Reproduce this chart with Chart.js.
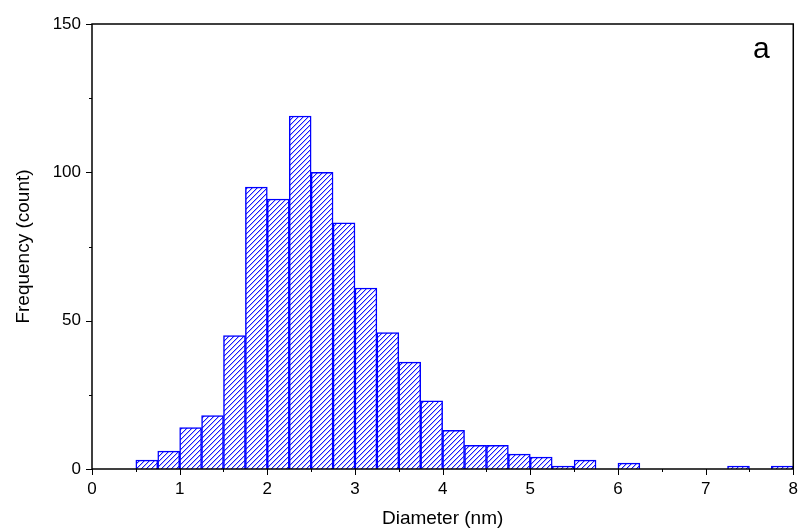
<!DOCTYPE html>
<html>
<head>
<meta charset="utf-8">
<script src="https://cdn.jsdelivr.net/npm/chart.js@4"></script>
<style>
  html, body { margin: 0; padding: 0; background: #fff; }
  #wrap { width: 803px; height: 531px; }
</style>
</head>
<body>
<div id="wrap"><canvas id="hist" width="803" height="531"></canvas></div>
<script>
// Bin centres (bin width 0.25 nm) and counts
const binCenters = [0.625, 0.875, 1.125, 1.375, 1.625, 1.875, 2.125, 2.375, 2.625, 2.875,
                    3.125, 3.375, 3.625, 3.875, 4.125, 4.375, 4.625, 4.875, 5.125, 5.375,
                    5.625, 5.875, 6.125, 6.375, 6.625, 6.875, 7.125, 7.375, 7.625, 7.875];
const counts = [3, 6, 14, 18, 45, 95, 91, 119, 100, 83,
                61, 46, 36, 23, 13, 8, 8, 5, 4, 1,
                3, 0, 2, 0, 0, 0, 0, 1, 0, 1];
const xMajorTicks = [0, 1, 2, 3, 4, 5, 6, 7, 8];
const xMinorTicks = [0.5, 1.5, 2.5, 3.5, 4.5, 5.5, 6.5, 7.5];
const yMajorTicks = [0, 50, 100, 150];
const yMinorTicks = [25, 75, 125];
const panelLabel = 'a';

const FONT = 'Liberation Sans, Arial, sans-serif';

// diagonal hatch fill, drawn pixel by pixel so it stays crisp
function makeHatch() {
  const n = 5;
  const c = document.createElement('canvas');
  c.width = n; c.height = n;
  const g = c.getContext('2d');
  g.fillStyle = '#ffffff';
  g.fillRect(0, 0, n, n);
  for (let i = 0; i < n; i++) {
    g.fillStyle = '#1515ff';
    g.fillRect(i, n - 1 - i, 1, 1);
    g.fillStyle = '#b4b4ff';
    g.fillRect(i, (n - i) % n, 1, 1);
  }
  return g.createPattern(c, 'repeat');
}

// frame, ticks and panel letter
const framePlugin = {
  id: 'frame',
  afterDatasetsDraw(chart) {
    const { ctx, chartArea: a, scales: { x, y } } = chart;
    ctx.save();
    ctx.strokeStyle = '#000';
    ctx.lineWidth = 1.5;
    ctx.strokeRect(a.left, a.top, a.right - a.left, a.bottom - a.top);
    ctx.lineWidth = 1;
    ctx.beginPath();
    xMajorTicks.forEach(v => { const p = Math.round(x.getPixelForValue(v)) + 0.5; ctx.moveTo(p, a.bottom); ctx.lineTo(p, a.bottom + 6); });
    xMinorTicks.forEach(v => { const p = Math.round(x.getPixelForValue(v)) + 0.5; ctx.moveTo(p, a.bottom); ctx.lineTo(p, a.bottom + 3); });
    yMajorTicks.forEach(v => { const p = Math.round(y.getPixelForValue(v)) + 0.5; ctx.moveTo(a.left, p); ctx.lineTo(a.left - 6, p); });
    yMinorTicks.forEach(v => { const p = Math.round(y.getPixelForValue(v)) + 0.5; ctx.moveTo(a.left, p); ctx.lineTo(a.left - 3, p); });
    ctx.stroke();
    ctx.fillStyle = '#000';
    ctx.font = '30px ' + FONT;
    ctx.textAlign = 'center';
    ctx.textBaseline = 'alphabetic';
    ctx.fillText(panelLabel, a.right - 32, a.top + 34);
    ctx.restore();
  }
};

const ctx = document.getElementById('hist').getContext('2d');
new Chart(ctx, {
  type: 'bar',
  data: {
    datasets: [{
      data: binCenters.map((c, i) => ({ x: c, y: counts[i] })),
      backgroundColor: makeHatch(),
      borderColor: '#0000ff',
      borderWidth: 1.5,
      borderSkipped: 'start',
      barPercentage: 1,
      categoryPercentage: 1
    }]
  },
  options: {
    responsive: false,
    animation: false,
    layout: { padding: { left: 0, top: 24, right: 5, bottom: 0 } },
    plugins: { legend: { display: false }, tooltip: { enabled: false } },
    scales: {
      x: {
        type: 'linear',
        min: 0, max: 8,
        offset: false,
        // invisible tick marks keep the label gap; real ticks drawn by framePlugin
        grid: { display: true, drawOnChartArea: false, drawTicks: true, tickLength: 5, tickColor: 'rgba(0,0,0,0)' },
        border: { display: false },
        ticks: {
          stepSize: 1, padding: 5, color: '#000',
          font: { family: FONT, size: 17 }
        },
        title: {
          display: true, text: 'Diameter (nm)', color: '#000',
          font: { family: FONT, size: 19 }, padding: { top: 0, bottom: 1 }
        },
        afterFit(scale) { scale.height = 62; }
      },
      y: {
        min: 0, max: 150,
        grid: { display: false, drawTicks: false },
        border: { display: false },
        ticks: {
          stepSize: 50, padding: 11, color: '#000',
          font: { family: FONT, size: 17 }
        },
        title: {
          display: true, text: 'Frequency (count)', color: '#000',
          font: { family: FONT, size: 19 }, padding: { top: 12, bottom: 0 }
        },
        afterFit(scale) { scale.width = 92; }
      }
    }
  },
  plugins: [framePlugin]
});
</script>
</body>
</html>
